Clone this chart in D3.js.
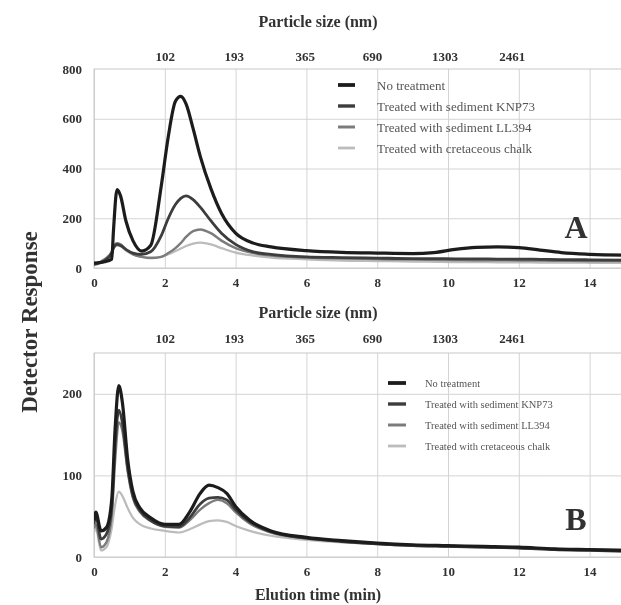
<!DOCTYPE html>
<html>
<head>
<meta charset="utf-8">
<script src="https://cdn.jsdelivr.net/npm/d3@7"></script>
<style>
  body { margin: 0; background: #fff; }
  svg { display: block; }
</style>
</head>
<body>
<div id="chart"></div>
<script>
// ---- data ----
var timeA    = [0, 0.3, 0.5, 0.55, 0.65, 0.75, 0.9, 1.1, 1.35, 1.6, 1.9, 2.1, 2.3, 2.45, 2.6, 2.8, 3.0, 3.3, 3.6, 4.0, 4.5, 5, 6, 7, 8, 9, 9.6, 10.2, 10.8, 11.4, 12, 12.6, 13.2, 14, 15];
var noTreatA = [20, 25, 35, 150, 315, 290, 190, 110, 68, 90, 330, 530, 670, 690, 660, 560, 450, 320, 220, 140, 100, 85, 70, 63, 60, 58, 62, 75, 83, 85, 82, 72, 62, 55, 52];
var knp73A   = [15, 30, 60, 80, 95, 90, 75, 60, 55, 65, 130, 200, 255, 280, 290, 275, 245, 190, 140, 95, 65, 55, 45, 42, 40, 38, 38, 37, 37, 36, 36, 35, 34, 33, 32];
var ll394A   = [15, 35, 65, 85, 100, 95, 75, 55, 45, 40, 45, 60, 80, 100, 125, 148, 155, 140, 110, 80, 60, 50, 42, 38, 36, 34, 33, 32, 31, 31, 30, 30, 29, 28, 28];
var chalkA   = [12, 30, 60, 80, 90, 88, 70, 55, 45, 42, 45, 55, 68, 78, 88, 98, 102, 95, 80, 62, 50, 42, 35, 30, 28, 26, 25, 24, 24, 23, 23, 22, 22, 21, 20];

var timeB    = [0, 0.05, 0.2, 0.35, 0.5, 0.6, 0.7, 0.8, 0.95, 1.1, 1.3, 1.6, 2.0, 2.4, 2.7, 3.0, 3.25, 3.5, 3.75, 4.0, 4.4, 5, 6, 7, 8, 9, 10, 11, 12, 13, 14, 15];
var noTreatB = [45, 55, 32, 36, 70, 160, 210, 190, 120, 80, 60, 48, 40, 40, 55, 78, 88, 85, 78, 62, 45, 32, 24, 20, 17, 15, 14, 13, 12, 10, 9, 8];
var knp73B   = [40, 50, 22, 28, 60, 140, 180, 165, 110, 75, 57, 45, 38, 37, 48, 65, 72, 73, 70, 58, 43, 31, 23, 19, 16, 14, 13, 12, 11, 9, 8, 7];
var ll394B   = [35, 40, 12, 18, 50, 120, 165, 155, 105, 72, 55, 44, 37, 36, 45, 58, 66, 70, 66, 55, 41, 30, 23, 19, 16, 14, 13, 12, 11, 10, 9, 8];
var chalkB   = [30, 35, 8, 12, 35, 65, 80, 75, 60, 48, 40, 35, 32, 30, 34, 40, 44, 45, 43, 38, 32, 26, 21, 18, 16, 14, 13, 12, 11, 10, 9, 9];

var timeTicks  = [0, 2, 4, 6, 8, 10, 12, 14];
var sizeTicks  = [2, 3.95, 5.95, 7.85, 9.9, 11.8];   // where the size labels sit on the time axis
var sizeLabels = ['102', '193', '365', '690', '1303', '2461'];
var seriesNames = ['No treatment', 'Treated with sediment  KNP73', 'Treated with sediment  LL394', 'Treated with cretaceous chalk'];

var W = 621, H = 605;
var serif = "'Liberation Serif', 'DejaVu Serif', serif";
var lineColors = ['#1c1c1c', '#3c3c3c', '#7c7c7c', '#bcbcbc'];
var lineWidths = [3.2, 2.8, 2.4, 2.2];

var svg = d3.select('#chart').append('svg')
  .attr('width', W)
  .attr('height', H)
  .attr('style', 'background-color: white');

// scanned look: everything slightly soft
svg.append('defs').append('filter')
  .attr('id', 'soft')
  .append('feGaussianBlur').attr('stdDeviation', 0.55);

var root = svg.append('g').attr('filter', 'url(#soft)');

var x = d3.scaleLinear().domain([0, 15]).range([94, 625]);

function drawPanel(p) {
  var y = d3.scaleLinear().domain([0, p.yMax]).range([p.bottom, p.top]);
  var g = root.append('g');

  // grid
  g.append('g')
    .attr('transform', 'translate(0,' + p.bottom + ')')
    .call(d3.axisBottom(x).tickValues(timeTicks.concat([15])).tickSize(-(p.bottom - p.top)).tickFormat(''))
    .call(function(s) { s.select('.domain').remove(); })
    .selectAll('line').attr('stroke', '#d4d4d4');
  g.append('g')
    .attr('transform', 'translate(' + x(0) + ',0)')
    .call(d3.axisLeft(y).tickValues(p.yTicks).tickSize(-(x(15) - x(0))).tickFormat(''))
    .call(function(s) { s.select('.domain').remove(); })
    .selectAll('line').attr('stroke', '#d4d4d4');
  g.append('rect')
    .attr('x', x(0)).attr('y', p.top)
    .attr('width', x(15) - x(0)).attr('height', p.bottom - p.top)
    .attr('fill', 'none').attr('stroke', '#c8c8c8');

  // tick labels
  var xAx = g.append('g')
    .attr('transform', 'translate(0,' + p.bottom + ')')
    .call(d3.axisBottom(x).tickValues(timeTicks).tickSize(0).tickPadding(10));
  xAx.select('.domain').remove();
  xAx.selectAll('text').attr('font-family', serif).attr('font-weight', 'bold')
    .attr('font-size', 13).attr('fill', '#333');

  var yAx = g.append('g')
    .attr('transform', 'translate(' + (x(0) - 12) + ',0)')
    .call(d3.axisLeft(y).tickValues(p.yTicks.concat([p.yLabelMax]).filter(function(v) { return v != null; })).tickSize(0).tickPadding(0));
  yAx.select('.domain').remove();
  yAx.selectAll('text').attr('font-family', serif).attr('font-weight', 'bold')
    .attr('font-size', 13).attr('fill', '#333');

  // top particle size axis
  var sAx = g.append('g')
    .attr('transform', 'translate(0,' + p.sizeY + ')')
    .call(d3.axisTop(x).tickValues(sizeTicks).tickSize(0).tickPadding(0)
      .tickFormat(function(d, i) { return sizeLabels[i]; }));
  sAx.select('.domain').remove();
  sAx.selectAll('text').attr('font-family', serif).attr('font-weight', 'bold')
    .attr('font-size', 13).attr('fill', '#333');

  g.append('text')
    .attr('x', 318).attr('y', p.titleY)
    .attr('text-anchor', 'middle')
    .attr('font-family', serif).attr('font-weight', 'bold').attr('font-size', 16)
    .attr('fill', '#333')
    .text('Particle size (nm)');

  // curves
  var clipId = 'clip' + p.letter;
  svg.select('defs').append('clipPath').attr('id', clipId)
    .append('rect').attr('x', x(0)).attr('y', p.top - 20)
    .attr('width', x(15) - x(0)).attr('height', p.bottom - p.top + 20);

  var line = d3.line()
    .x(function(d) { return x(d[0]); })
    .y(function(d) { return y(d[1]); })
    .curve(d3.curveMonotoneX);

  var lines = g.append('g').attr('clip-path', 'url(#' + clipId + ')');
  for (var k = p.series.length - 1; k >= 0; k--) {
    var pts = p.time.map(function(t, i) { return [t, p.series[k][i]]; });
    lines.append('path')
      .datum(pts)
      .attr('d', line)
      .attr('fill', 'none')
      .attr('stroke', lineColors[k])
      .attr('stroke-width', lineWidths[k])
      .attr('stroke-linejoin', 'round');
  }

  // legend
  var lg = g.append('g');
  seriesNames.forEach(function(name, i) {
    var ly = p.legendY + i * p.legendStep;
    lg.append('line')
      .attr('x1', p.legendX).attr('x2', p.legendX + p.legendLen)
      .attr('y1', ly).attr('y2', ly)
      .attr('stroke', lineColors[i]).attr('stroke-width', lineWidths[i] + 0.6);
    lg.append('text')
      .attr('x', p.legendText).attr('y', ly)
      .attr('dy', '0.35em')
      .attr('font-family', serif).attr('font-size', p.legendFont)
      .attr('fill', '#555')
      .text(name);
  });

  g.append('text')
    .attr('x', p.letterX).attr('y', p.letterY)
    .attr('text-anchor', 'middle')
    .attr('font-family', serif).attr('font-weight', 'bold').attr('font-size', 32)
    .attr('fill', '#333')
    .text(p.letter);
}

drawPanel({
  letter: 'A', top: 69, bottom: 268, yMax: 800, yTicks: [0, 200, 400, 600], yLabelMax: 800,
  time: timeA, series: [noTreatA, knp73A, ll394A, chalkA],
  sizeY: 61, titleY: 27,
  legendX: 338, legendLen: 17, legendText: 377, legendY: 85, legendStep: 21, legendFont: 13,
  letterX: 576, letterY: 238
});

drawPanel({
  letter: 'B', top: 353, bottom: 557, yMax: 250, yTicks: [0, 100, 200], yLabelMax: null,
  time: timeB, series: [noTreatB, knp73B, ll394B, chalkB],
  sizeY: 343, titleY: 318,
  legendX: 388, legendLen: 18, legendText: 425, legendY: 383, legendStep: 21, legendFont: 10.5,
  letterX: 576, letterY: 530
});

root.append('text')
  .attr('x', 318).attr('y', 600)
  .attr('text-anchor', 'middle')
  .attr('font-family', serif).attr('font-weight', 'bold').attr('font-size', 16)
  .attr('fill', '#333')
  .text('Elution time (min)');

root.append('text')
  .attr('transform', 'translate(37,322) rotate(-90)')
  .attr('text-anchor', 'middle')
  .attr('font-family', serif).attr('font-weight', 'bold').attr('font-size', 23)
  .attr('fill', '#333')
  .text('Detector Response');
</script>
</body>
</html>
